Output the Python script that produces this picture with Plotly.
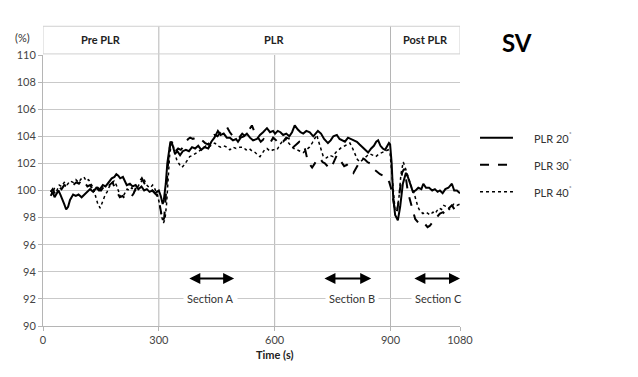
import plotly.graph_objects as go

# ---------------- data ----------------
t20 = [20,25,30,35,40,45,50,55,60,65,70,78,85,92,100,108,115,122,130,138,145,155,162,170,178,185,190,195,200,207,213,217,225,232,240,247,255,262,269,276,283,290,295,300,305,310,313,318,322,326,330,334,338,342,348,355,362,370,378,386,394,402,410,418,428,436,444,453,460,468,476,484,492,500,505,512,520,528,536,544,554,562,570,580,588,596,601,608,615,622,630,638,645,652,660,667,674,682,691,700,706,712,720,728,738,745,752,761,768,775,782,790,797,805,813,820,828,835,842,850,857,863,868,874,880,886,892,896,899,903,907,912,919,925,932,940,945,952,958,965,972,980,985,992,1000,1008,1015,1022,1028,1035,1042,1050,1055,1059,1065,1072,1080]
v20 = [99.6,99.9,99.5,99.8,100.0,99.7,99.4,99.0,98.6,98.8,99.3,99.7,99.6,99.7,99.5,99.7,99.9,100.1,99.9,100.2,100.0,100.4,100.3,100.6,100.9,101.0,101.2,101.1,100.9,101.0,100.7,100.4,100.5,100.3,100.4,100.1,100.3,100.0,100.1,99.9,100.0,99.8,99.9,100.0,99.6,99.0,99.3,100.5,102.0,103.0,103.6,103.5,103.0,102.7,102.9,102.6,102.9,103.0,102.9,103.2,103.1,103.3,103.0,103.2,103.1,103.6,103.9,104.4,104.1,104.2,103.9,103.9,103.7,103.8,103.6,103.9,104.0,104.2,103.9,103.7,103.8,104.1,104.3,104.6,104.3,104.4,104.2,104.4,104.3,104.1,104.2,104.0,104.3,104.8,104.5,104.3,104.2,104.4,104.3,104.0,104.2,104.4,104.2,103.8,103.5,103.7,104.0,104.1,103.8,103.7,103.6,103.9,103.8,103.7,103.6,103.4,103.2,103.0,102.8,103.1,103.3,103.6,103.7,103.3,103.1,103.0,103.3,103.5,103.4,102.0,99.5,98.2,97.8,98.8,100.5,101.3,101.0,100.3,99.9,100.0,100.2,100.1,100.5,100.2,100.2,100.0,100.1,99.9,100.0,99.8,100.1,100.2,100.4,100.5,100.0,100.0,99.8]

t30 = [20,25,30,35,40,48,55,62,70,78,86,93,100,108,115,122,128,135,142,150,158,165,172,180,186,192,199,206,213,220,228,235,242,249,256,263,270,277,284,290,296,302,306,310,314,318,322,326,330,334,338,343,350,357,363,370,376,381,388,396,404,412,420,428,436,444,452,460,468,476,484,492,500,508,516,524,532,541,548,556,564,572,580,588,596,604,612,622,630,640,648,656,664,674,680,686,692,697,704,710,717,724,730,737,743,750,756,761,768,774,780,787,795,804,810,818,826,833,840,847,853,860,867,873,880,886,891,897,903,908,913,918,924,930,935,940,945,950,957,964,970,976,982,990,996,1002,1010,1016,1022,1028,1036,1042,1048,1054,1059,1066,1072,1080]
v30 = [99.9,100.1,99.8,100.2,100.3,100.1,100.4,100.3,100.5,100.4,100.6,100.5,100.8,100.6,100.3,100.4,100.1,99.9,100.2,100.0,100.3,100.1,100.4,100.6,100.2,99.9,99.5,99.6,99.4,99.5,99.5,99.8,100.3,100.6,100.9,100.5,100.3,100.1,100.0,99.8,99.6,99.0,98.3,97.7,98.0,99.5,101.5,102.8,103.4,103.6,103.2,102.9,103.1,103.0,103.2,103.6,103.8,103.9,103.8,103.9,103.9,103.7,103.5,103.4,103.8,104.1,104.0,104.3,104.5,104.7,104.3,104.0,103.8,103.9,104.2,104.0,104.4,104.8,104.3,103.9,103.6,103.8,103.7,103.5,103.9,103.7,103.4,103.6,103.9,103.8,103.2,103.4,103.6,103.5,102.9,102.1,101.9,101.7,102.0,102.3,102.4,102.1,102.0,101.8,101.6,101.9,102.3,102.6,102.3,102.0,101.8,101.9,101.6,101.3,101.6,102.0,102.4,102.3,102.1,102.0,101.7,101.5,101.3,101.2,101.1,100.9,100.9,100.6,100.0,99.0,98.3,98.6,100.0,101.3,101.6,100.9,99.9,99.3,98.6,97.9,97.7,97.5,97.6,97.5,97.3,97.4,97.7,97.9,98.1,98.3,98.4,98.2,98.6,98.8,98.9,98.6,98.8,99.0]

t40 = [20,25,30,36,42,48,55,62,70,78,85,92,100,106,112,118,124,130,136,142,148,154,160,166,172,178,184,190,195,200,206,212,218,224,230,236,242,248,255,261,266,272,278,284,290,296,302,307,312,316,320,324,328,332,336,341,347,354,360,366,372,380,388,398,406,414,422,430,438,445,452,460,468,476,484,492,500,510,518,526,534,542,550,556,562,568,574,580,588,596,606,614,622,628,635,642,650,657,664,674,682,690,697,703,709,714,720,726,734,742,751,758,766,774,782,790,795,802,808,814,821,828,835,841,847,854,862,870,878,886,894,899,904,908,912,917,922,927,933,938,944,950,955,960,966,971,976,984,992,1002,1010,1016,1020,1026,1032,1038,1046,1052,1058,1064,1072,1080]
v40 = [100.0,99.8,100.2,100.0,100.4,100.3,100.6,100.4,100.7,100.6,100.8,100.6,100.9,101.0,100.7,100.8,100.5,100.2,99.6,99.0,98.7,99.2,99.6,99.9,100.3,100.5,100.7,100.4,99.9,99.6,99.5,99.8,100.1,100.0,100.2,99.9,100.1,100.4,100.7,100.9,100.5,100.3,100.2,100.4,100.1,99.7,99.0,98.1,97.6,97.9,99.0,101.0,102.6,103.4,103.5,102.8,102.2,101.9,101.7,101.9,102.2,102.5,102.6,102.8,102.9,103.1,103.3,103.2,103.4,103.5,103.3,103.2,103.3,103.2,103.0,103.2,103.1,103.2,103.2,103.0,103.1,102.9,102.8,102.6,102.5,102.8,103.0,103.1,102.9,103.0,103.0,103.4,103.7,103.8,103.5,103.3,103.1,103.0,102.9,102.8,103.0,103.2,103.5,103.8,104.1,103.6,103.0,102.5,102.4,102.6,102.5,102.8,103.0,103.2,103.3,103.4,103.5,103.1,102.7,102.3,102.1,102.3,102.5,102.6,102.7,102.6,102.5,102.7,102.8,102.9,103.0,102.7,101.0,99.2,98.5,98.6,99.5,101.2,102.1,101.7,101.1,100.6,100.2,99.9,99.3,98.8,98.5,98.3,98.4,98.2,98.4,98.3,98.5,98.7,98.6,98.9,98.8,98.6,98.8,99.0,98.9,99.0]

series_names = ["PLR 20˚", "PLR 30˚", "PLR 40˚"]
phase_names = ["Pre PLR", "PLR", "Post PLR"]
phase_bounds = [0, 300, 900, 1080]
x_ticks = [0, 300, 600, 900, 1080]
y_ticks = [90, 92, 94, 96, 98, 100, 102, 104, 106, 108, 110]
sections = ["Section A", "Section B", "Section C"]
section_from = [375, 725, 958]
section_to = [495, 850, 1080]
section_label_x = [435, 800, 1025]

# ---------------- figure ----------------
FONT = "Lato, 'Open Sans', sans-serif"
GRID = "#c9c9c9"
styles = [dict(dash="solid", width=2.0), dict(dash="dash", width=2.0), dict(dash="dot", width=1.5)]

fig = go.Figure()
for tt, vv, nm, st in zip([t20, t30, t40], [v20, v30, v40], series_names, styles):
    fig.add_trace(go.Scatter(x=tt, y=vv, mode="lines", name=nm,
                             line=dict(color="black", width=st["width"], dash=st["dash"]),
                             showlegend=False))

# vertical dividers
for b in phase_bounds[1:-1]:
    fig.add_shape(type="line", xref="x", yref="paper", x0=b, x1=b, y0=0, y1=1.106,
                  line=dict(color="#b5b5b5", width=1), layer="below")
fig.add_shape(type="line", xref="x", yref="paper", x0=600, x1=600, y0=0, y1=1,
              line=dict(color="#b5b5b5", width=1), layer="below")
# header band
fig.add_shape(type="rect", xref="x", yref="paper", x0=0, x1=1080, y0=1.004, y1=1.106,
              line=dict(color="#d0d0d0", width=1), fillcolor="rgba(0,0,0,0)", layer="below")
for i, nm in enumerate(phase_names):
    fig.add_annotation(x=(phase_bounds[i] + phase_bounds[i + 1]) / 2, y=1.058, xref="x", yref="paper",
                       text="<b>%s</b>" % nm, showarrow=False, xanchor="center", yanchor="middle",
                       font=dict(family=FONT, size=11, color="#222"))

# section arrows and labels
for s, a, b, lx in zip(sections, section_from, section_to, section_label_x):
    fig.add_annotation(x=b, y=93.5, ax=a, ay=93.5, xref="x", yref="y", axref="x", ayref="y",
                       showarrow=True, arrowhead=2, startarrowhead=2, arrowside="end+start",
                       arrowsize=1.1, startarrowsize=1.1, arrowwidth=2, arrowcolor="black", text="")
    fig.add_annotation(x=lx, y=92, xref="x", yref="y", text=s, showarrow=False,
                       xanchor="center", yanchor="middle", bgcolor="white", borderpad=3,
                       font=dict(family=FONT, size=11, color="#333"))

# legend (manual)
leg_y = [103.9, 101.9, 99.9]
for nm, st, ly in zip(series_names, styles, leg_y):
    fig.add_shape(type="line", xref="paper", yref="y", x0=1.048, x1=1.127, y0=ly, y1=ly,
                  line=dict(color="black", width=st["width"], dash=st["dash"]))
    fig.add_annotation(x=1.172, y=ly, xref="paper", yref="y", text=nm.replace("˚", "<sup>˚</sup>"),
                       showarrow=False, xanchor="left", yanchor="middle",
                       font=dict(family=FONT, size=11, color="#333"))

fig.add_annotation(x=1.137, y=1.047, xref="paper", yref="paper", text="<b>SV</b>", showarrow=False,
                   xanchor="center", yanchor="middle",
                   font=dict(family=FONT, size=24, color="black"))
fig.add_annotation(x=-0.05, y=1.066, xref="paper", yref="paper", text="(%)", showarrow=False,
                   xanchor="center", yanchor="middle",
                   font=dict(family=FONT, size=11, color="#333"))
fig.add_annotation(x=600, y=-0.104, xref="x", yref="paper", text="<b>Time (s)</b>", showarrow=False,
                   xanchor="center", yanchor="middle",
                   font=dict(family=FONT, size=11, color="#222"))

fig.update_layout(
    width=630, height=369,
    margin=dict(l=35, r=178, t=47, b=51, autoexpand=False),
    paper_bgcolor="white", plot_bgcolor="white",
    font=dict(family=FONT, size=11, color="#444"),
    xaxis=dict(range=[0, 1080], tickvals=x_ticks, showgrid=False, zeroline=False, automargin=False,
               showline=True, linecolor="#b5b5b5", ticks="outside", ticklen=4, tickcolor="#b5b5b5",
               tickfont=dict(family=FONT, size=11, color="#444")),
    yaxis=dict(range=[90, 110], tickvals=y_ticks, showgrid=True, gridcolor=GRID, gridwidth=1,
               zeroline=False, showline=True, linecolor="#b5b5b5", ticks="outside", ticklen=4,
               automargin=False, tickcolor="#b5b5b5", tickfont=dict(family=FONT, size=11, color="#444")),
)

fig.write_html("out.html")
